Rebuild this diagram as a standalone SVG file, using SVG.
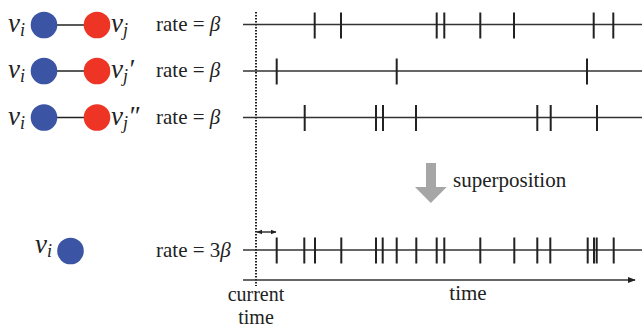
<svg xmlns="http://www.w3.org/2000/svg" width="642" height="327" viewBox="0 0 642 327" font-family="'Liberation Serif', 'DejaVu Serif', serif">
<defs>
<marker id="ah" viewBox="0 0 10 10" refX="9" refY="5" markerWidth="8" markerHeight="8" markerUnits="userSpaceOnUse" orient="auto-start-reverse"><path d="M0,1 L10,5 L0,9 Z" fill="#222"/></marker>
<marker id="ahs" viewBox="0 0 10 10" refX="9" refY="5" markerWidth="6" markerHeight="6" markerUnits="userSpaceOnUse" orient="auto-start-reverse"><path d="M0,1 L10,5 L0,9 Z" fill="#222"/></marker>
</defs>
<style>
text{font-family:'Liberation Serif','DejaVu Serif',serif;fill:#222;font-size:21px}
.v{font-style:italic;font-size:27px}
.sub{font-size:18px}
.ct{font-size:20px}
.blue{fill:#3b54a3}
.red{fill:#ee3424}
.edge{stroke:#222;stroke-width:1.5}
.axis{stroke:#333;stroke-width:1.5;fill:none}
.tick{stroke:#222;stroke-width:2}
</style>
<rect width="642" height="327" fill="#fff"/>
<g id="connectors">
<line class="edge" x1="44" y1="25" x2="97" y2="25"/>
<line class="edge" x1="44" y1="71" x2="97" y2="71"/>
<line class="edge" x1="44" y1="117.5" x2="97" y2="117.5"/>
</g>
<g id="node-row1">
<text x="8" y="32" class="v">v<tspan class="sub" dy="4">i</tspan></text>
<circle class="blue" cx="44" cy="25" r="13.3"/>
<circle class="red" cx="97" cy="25" r="13.3"/>
<text x="111" y="32" class="v">v<tspan class="sub" dy="4">j</tspan></text>
</g>
<g id="node-row2">
<text x="8" y="78" class="v">v<tspan class="sub" dy="4">i</tspan></text>
<circle class="blue" cx="44" cy="71" r="13.3"/>
<circle class="red" cx="97" cy="71" r="13.3"/>
<text x="111" y="78" class="v">v<tspan class="sub" dy="4">j</tspan><tspan dy="-4">′</tspan></text>
</g>
<g id="node-row3">
<text x="8" y="124.5" class="v">v<tspan class="sub" dy="4">i</tspan></text>
<circle class="blue" cx="44" cy="117.5" r="13.3"/>
<circle class="red" cx="97" cy="117.5" r="13.3"/>
<text x="111" y="124.5" class="v">v<tspan class="sub" dy="4">j</tspan><tspan dy="-4">″</tspan></text>
</g>
<g id="node-bottom">
<text x="35" y="253" class="v">v<tspan class="sub" dy="4">i</tspan></text>
<circle class="blue" cx="70.5" cy="251" r="13.3"/>
</g>
<g id="labels">
<text x="156" y="31">rate = <tspan font-style="italic">β</tspan></text>
<text x="156" y="77">rate = <tspan font-style="italic">β</tspan></text>
<text x="156" y="123.5">rate = <tspan font-style="italic">β</tspan></text>
<text x="156" y="257">rate = 3<tspan font-style="italic">β</tspan></text>
<text x="453" y="187">superposition</text>
<text x="468" y="300" text-anchor="middle">time</text>
<text x="256" y="301" text-anchor="middle" class="ct">current</text>
<text x="256" y="324" text-anchor="middle" class="ct">time</text>
</g>
<g id="timelines">
<line class="axis" x1="243" y1="24.5" x2="642" y2="24.5"/>
<line class="axis" x1="243" y1="71" x2="642" y2="71"/>
<line class="axis" x1="243" y1="117.5" x2="642" y2="117.5"/>
<line class="axis" x1="243" y1="250" x2="642" y2="250"/>
<g class="tick">
<path d="M314.7,12.5V38.5M341,12.5V38.5M436.7,12.5V38.5M444.3,12.5V38.5M480.3,12.5V38.5M514,12.5V38.5M593.7,12.5V38.5M613.3,12.5V38.5"/>
<path d="M276.7,58.5V84.5M396.7,58.5V84.5M587,58.5V84.5"/>
<path d="M304.7,105V131M376,105V131M383,105V131M416,105V131M537.3,105V131M550.7,105V131M597,105V131"/>
<path d="M276.7,237.5V263.5M304.3,237.5V263.5M315,237.5V263.5M341.3,237.5V263.5M376,237.5V263.5M382.7,237.5V263.5M396.7,237.5V263.5M416.3,237.5V263.5M436.7,237.5V263.5M444.3,237.5V263.5M480.3,237.5V263.5M514.3,237.5V263.5M537.3,237.5V263.5M550.3,237.5V263.5M587.7,237.5V263.5M594,237.5V263.5M596.7,237.5V263.5M613.7,237.5V263.5"/>
</g>
<line x1="256" y1="12" x2="256" y2="286" stroke="#222" stroke-width="2" stroke-dasharray="1.5 1.5"/>
<line class="axis" x1="257" y1="232" x2="276" y2="232" stroke-width="1.2" marker-start="url(#ahs)" marker-end="url(#ahs)"/>
<line class="axis" x1="243" y1="280" x2="635" y2="280" marker-end="url(#ah)"/>
</g>
<g id="superposition-arrow">
<path d="M426,163H436V187H446.7L430.8,203L415,187H426Z" fill="#a6a6a6"/>
</g>
</svg>
